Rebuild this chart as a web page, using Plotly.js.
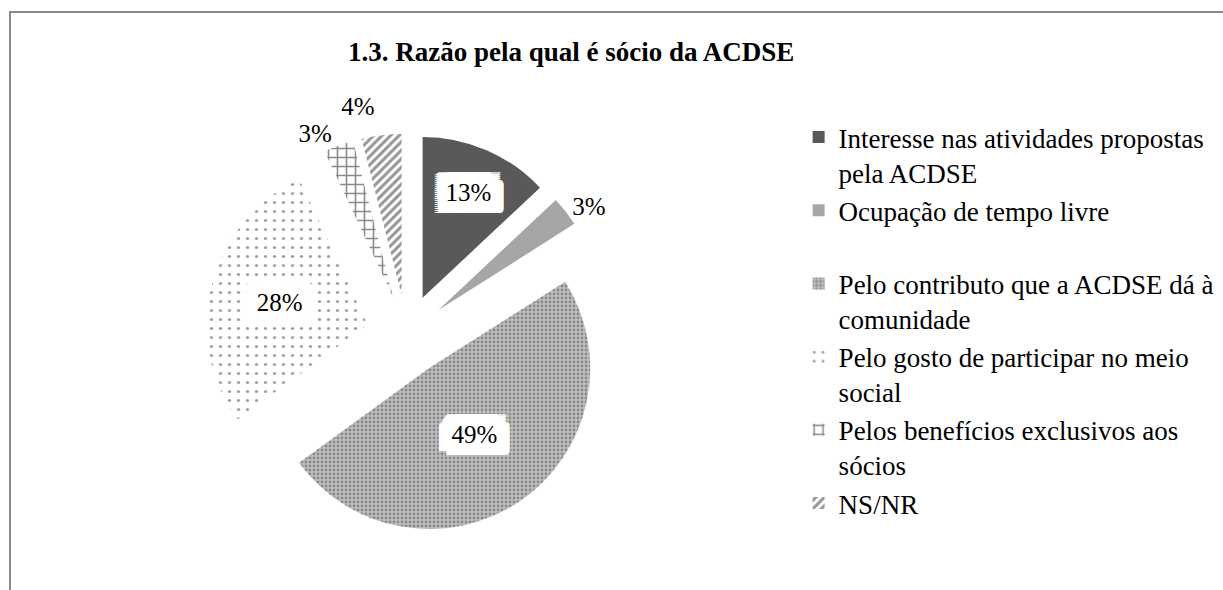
<!DOCTYPE html>
<html>
<head>
<meta charset="utf-8">
<script src="https://cdn.plot.ly/plotly-3.0.1.min.js"></script>
<style>
  html, body { margin: 0; padding: 0; background: #ffffff; }
  #chart { width: 1223px; height: 590px; }
</style>
</head>
<body>
<div id="chart"></div>
<script>
// ---- data ----
const categories = [
  "Interesse nas atividades propostas<br>pela ACDSE",
  "Ocupação de tempo livre<br> ",
  "Pelo contributo que a ACDSE dá à<br>comunidade",
  "Pelo gosto de participar no meio<br>social",
  "Pelos benefícios exclusivos aos<br>sócios",
  "NS/NR"
];
const values = [13, 3, 49, 28, 3, 4];
const labelPositions = ["inside", "outside", "inside", "inside", "outside", "outside"];
const chartTitle = "1.3. Razão pela qual é sócio da ACDSE";

// ---- styling ----
const baseColors   = ["#595959", "#a6a6a6", "#bdbdbd", "#ffffff", "#ffffff", "#ffffff"];
const patShapes    = ["", "", ".", ".", "+", "/"];
const patBg        = ["#595959", "#a6a6a6", "#c0c0c0", "#ffffff", "#ffffff", "#ffffff"];
const patFg        = ["#595959", "#a6a6a6", "#888888", "#a0a0a0", "#8a8a8a", "#959595"];
const patSize      = [8, 8, 4, 9, 9, 6];
const patSolidity  = [0.3, 0.3, 0.4, 0.1, 0.32, 0.5];

const FONT = '"Liberation Serif", "Times New Roman", Times, serif';

// white box behind the inside labels (grid of crisp text-shadows)
const shadowParts = [];
for (let dx = -13; dx <= 13; dx += 2) {
  for (let dy = -12; dy <= 12; dy += 2) {
    shadowParts.push(`#ffffff ${dx}px ${dy}px 0px`);
  }
}
const boxShadow = shadowParts.join(", ");

const trace = {
  type: "pie",
  labels: categories,
  values: values,
  sort: false,
  direction: "clockwise",
  rotation: 0,
  pull: values.map(() => 0.25),
  textposition: labelPositions,
  // label colour set in the span so that leader lines (outside font colour) stay invisible
  texttemplate: '<span style="color:#000000">%{percent:.0%}</span>',
  insidetextorientation: "horizontal",
  insidetextfont: { family: FONT, size: 25, color: "#000000", shadow: boxShadow },
  outsidetextfont: { family: FONT, size: 25, color: "#ffffff" },
  marker: {
    colors: baseColors,
    line: { width: 0 },
    pattern: {
      shape: patShapes,
      bgcolor: patBg,
      fgcolor: patFg,
      size: patSize,
      solidity: patSolidity,
      fillmode: "replace"
    }
  },
  domain: { x: [0.168, 0.497], y: [0.0915, 0.7737] },
  hoverinfo: "none",
  showlegend: true
};

const layout = {
  width: 1223,
  height: 590,
  margin: { l: 0, r: 0, t: 0, b: 0 },
  paper_bgcolor: "#ffffff",
  plot_bgcolor: "#ffffff",
  font: { family: FONT, color: "#000000" },
  title: {
    text: chartTitle,
    font: { family: FONT, size: 27, weight: "bold", color: "#000000" },
    x: 0.467, xanchor: "center",
    xref: "paper", yref: "paper",
    y: 1 - 52 / 590, yanchor: "middle"
  },
  showlegend: true,
  legend: {
    x: 0.653, xanchor: "left",
    y: 1 - 113 / 590, yanchor: "top",
    valign: "top",
    font: { family: FONT, size: 27, color: "#000000" },
    bgcolor: "rgba(0,0,0,0)",
    traceorder: "normal"
  },
  shapes: [{
    type: "rect", xref: "paper", yref: "paper",
    x0: 10 / 1223, x1: 1.02, y0: -0.02, y1: 1 - 12 / 590,
    line: { color: "#8a8a8a", width: 2 },
    fillcolor: "rgba(0,0,0,0)"
  }]
};

Plotly.newPlot("chart", [trace], layout, { staticPlot: true, displayModeBar: false });
</script>
</body>
</html>
